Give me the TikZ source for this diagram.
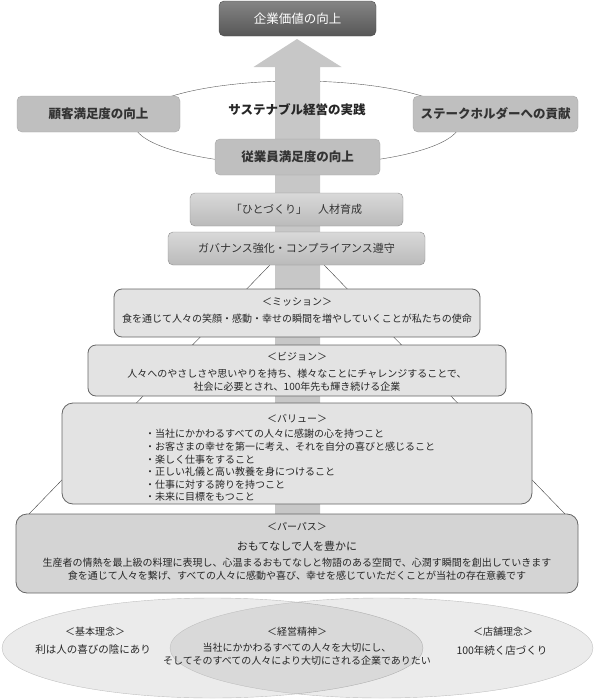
\documentclass[tikz,border=0pt]{standalone}
\usepackage{fontspec}
\setmainfont{Noto Sans CJK JP}
\usetikzlibrary{calc}

\begin{document}
\begin{tikzpicture}[x=1pt,y=-1pt,
	box/.style={rounded corners=5pt,inner sep=0pt,outer sep=0pt,text=black!80},
	pill/.style={box,draw=black!35,fill=black!25,font=\bfseries\fontsize{12.5}{14}\selectfont},
	band/.style={box,draw=black!45,top color=black!15,bottom color=black!27,font=\fontsize{11}{13}\selectfont},
	tier/.style={box,draw=black!60,line width=.8pt,fill=black!11,rounded corners=8pt},
	txt/.style={inner sep=0pt,text=black!85,font=\fontsize{10}{12}\selectfont}]
	\useasboundingbox(0,0) rectangle(595,699);
	\draw[black!65](297,123) ellipse[x radius=163pt,y radius=42pt];
	\fill[black!22](275,520)--(275,67)--(253.5,67)--(297,39)--(341.5,67)--(320,67)--(320,520)--cycle;
	\coordinate(apex) at (297,237);
	\coordinate(bl) at (29,514);
	\coordinate(br) at (565,514);
	\draw[black!75](apex)--(bl) (apex)--(br);
	\node[box,draw=black!70,top color=black!48,bottom color=black!66,text=white,font=\fontsize{12.5}{14}\selectfont,minimum width=157pt,minimum height=35pt](kigyo) at (297.5,18.5){企業価値の向上};
	\node[pill,minimum width=163pt,minimum height=36pt](kokyaku) at (98.5,114){顧客満足度の向上};
	\node[pill,minimum width=165pt,minimum height=36pt](stake) at (495.5,114){ステークホルダーへの貢献};
	\node[pill,minimum width=165pt,minimum height=36pt](jugyo) at (297.5,157){従業員満足度の向上};
	\node[txt,font=\bfseries\fontsize{12.5}{14}\selectfont](sus) at (297,110){サステナブル経営の実践};
	\node[band,minimum width=213pt,minimum height=33pt](hito) at (296.5,209.5){「ひとづくり」\quad 人材育成};
	\node[band,minimum width=257pt,minimum height=33pt](gov) at (296.5,248.5){ガバナンス強化・コンプライアンス遵守};
	\node[tier,minimum width=366pt,minimum height=48pt](mission) at (297,313){};
	\node[txt](mis1) at (297,302){＜ミッション＞};
	\node[txt](mis2) at (297,319){食を通じて人々の笑顔・感動・幸せの瞬間を増やしていくことが私たちの使命};
	\node[tier,minimum width=418pt,minimum height=51pt](vision) at (297,370.5){};
	\node[txt](vis1) at (297,357){＜ビジョン＞};
	\node[txt](vis2) at (297,374){人々へのやさしさや思いやりを持ち、様々なことにチャレンジすることで、};
	\node[txt](vis3) at (297,387){社会に必要とされ、100年先も輝き続ける企業};
	\node[tier,rounded corners=11pt,minimum width=470pt,minimum height=101pt](value) at (297,453.5){};
	\node[txt](val0) at (297,419){＜バリュー＞};
	\foreach \t [count=\i] in {当社にかかわるすべての人々に感謝の心を持つこと,
		お客さまの幸せを第一に考え、それを自分の喜びと感じること,
		楽しく仕事をすること,
		正しい礼儀と高い教養を身につけること,
		仕事に対する誇りを持つこと,
		未来に目標をもつこと}
		\node[txt,anchor=west](val\i) at (145,421.5+12.6*\i){・\t};
	\node[tier,fill=black!17,rounded corners=11pt,minimum width=562pt,minimum height=79pt](purpose) at (297,553.5){};
	\node[txt](pur1) at (297,527){＜パーパス＞};
	\node[txt,font=\fontsize{11}{13}\selectfont](pur2) at (297,546){おもてなしで人を豊かに};
	\node[txt](pur3) at (297,563){生産者の情熱を最上級の料理に表現し、心温まるおもてなしと物語のある空間で、心潤す瞬間を創出していきます};
	\node[txt](pur4) at (297,576){食を通じて人々を繋げ、すべての人々に感動や喜び、幸せを感じていただくことが当社の存在意義です};
	\draw[black!25,fill=black,fill opacity=.08](212.5,648) ellipse[x radius=210.5pt,y radius=50pt];
	\draw[black!25,fill=black,fill opacity=.08](381.5,648) ellipse[x radius=211.5pt,y radius=50pt];
	\node[txt](kihon1) at (95,632){＜基本理念＞};
	\node[txt,font=\fontsize{10.5}{12}\selectfont](kihon2) at (93,650){利は人の喜びの陰にあり};
	\node[txt](keiei1) at (297,632){＜経営精神＞};
	\node[txt](keiei2) at (297,648){当社にかかわるすべての人々を大切にし、};
	\node[txt](keiei3) at (297,661){そしてそのすべての人々により大切にされる企業でありたい};
	\node[txt](tenpo1) at (503,632){＜店舗理念＞};
	\node[txt,font=\fontsize{10.5}{12}\selectfont](tenpo2) at (502,650){100年続く店づくり};
\end{tikzpicture}
\end{document}
